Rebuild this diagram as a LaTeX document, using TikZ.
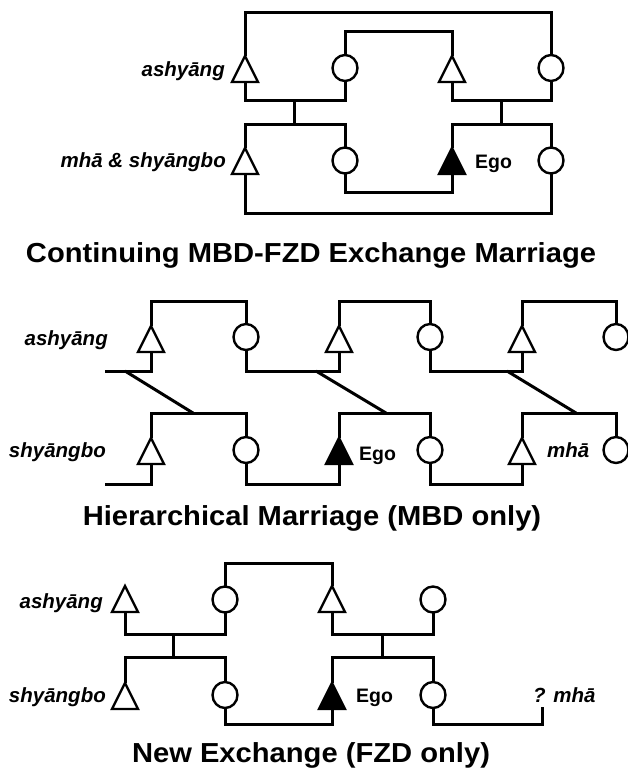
\documentclass[tikz,border=0pt]{standalone}
\usepackage{fontspec}
\setmainfont{Liberation Sans}
\usepackage{graphicx}
\usetikzlibrary{shapes.geometric,calc}
\begin{document}
\begin{tikzpicture}[x=1pt,y=-1pt,
  conn/.style={line width=3pt},
  male/.style={draw, line width=2.4pt, isosceles triangle, isosceles triangle stretches,
    shape border rotate=90, minimum width=26pt, minimum height=26pt,
    inner sep=0pt, outer sep=0pt, anchor=north, fill=white},
  ego/.style={male, fill=black},
  fem/.style={draw, ellipse, line width=2.4pt, minimum width=25pt, minimum height=26pt, inner sep=0pt, outer sep=0pt, fill=white},
  lab/.style={font=\fontsize{20.5}{24}\selectfont\bfseries\itshape, inner sep=0pt},
  egol/.style={font=\fontsize{19.5}{23}\selectfont\bfseries, inner sep=0pt, anchor=base west},
  ttl/.style={font=\fontsize{27.5}{31}\selectfont\bfseries, inner sep=0pt, anchor=base}]
\path[use as bounding box, fill=white] (0,0) rectangle (628,768);

% ---------- Panel 1 ----------
\coordinate (p1top) at (0,13);
\coordinate (p1in) at (0,32);
\coordinate (p1cpl) at (0,100);
\coordinate (p1sib) at (0,124);
\coordinate (p1inb) at (0,192);
\coordinate (p1bot) at (0,213);
\node[male] (tA) at (245,56) {};
\node[fem]  (cA) at (345,68) {};
\node[male] (tB) at (452,56) {};
\node[fem]  (cB) at (551,68) {};
\node[male] (tC) at (245,148) {};
\node[fem]  (cC) at (345,160.5) {};
\node[ego]  (eD) at (452,148) {};
\node[fem]  (cD) at (551,160.5) {};
\coordinate (dA) at (294,100);
\coordinate (dB) at (501,100);
\draw[conn] (tA.north) -- (tA.north |- p1top) -| (cB.north);
\draw[conn] (cA.north) -- (cA.north |- p1in) -| (tB.north);
\draw[conn] (tA.south) -- (tA.south |- p1cpl) -| (cA.south);
\draw[conn] (tB.south) -- (tB.south |- p1cpl) -| (cB.south);
\draw[conn] (dA) -- (dA |- p1sib);
\draw[conn] (dB) -- (dB |- p1sib);
\draw[conn] (tC.north) -- (tC.north |- p1sib) -| (cC.north);
\draw[conn] (eD.north) -- (eD.north |- p1sib) -| (cD.north);
\draw[conn] (tC.south) -- (tC.south |- p1bot) -| (cD.south);
\draw[conn] (cC.south) -- (cC.south |- p1inb) -| (eD.south);
\node[lab, anchor=base east] (l1a) at (225,76) {ashyāng};
\node[lab, anchor=base east] (l1b) at (226,167) {mhā \& shyāngbo};
\node[egol] (l1e) at (475,168) {Ego};
\node[ttl] (T1) at (311,262) {\scalebox{1.06}[1]{Continuing MBD-FZD Exchange Marriage}};

% ---------- Panel 2 ----------
\coordinate (p2top) at (0,301);
\coordinate (p2mid) at (0,371);
\coordinate (p2sib) at (0,413);
\coordinate (p2bot) at (0,484);
\node[male] (tE) at (151,326) {};
\node[fem]  (cE) at (246,337) {};
\node[male] (tF) at (339,326) {};
\node[fem]  (cF) at (430,337) {};
\node[male] (tG) at (522,326) {};
\node[fem]  (cG) at (616,337) {};
\node[male] (tH) at (151,438) {};
\node[fem]  (cH) at (246,450) {};
\node[ego]  (eI) at (339,438) {};
\node[fem]  (cI) at (430,450) {};
\node[male] (tJ) at (522,438) {};
\node[fem]  (cJ) at (616,450) {};
\coordinate (s1) at (105,371);
\coordinate (s2) at (105,484);
\coordinate (g1a) at (125,371);
\coordinate (g1b) at (193,413);
\coordinate (g2a) at (316,371);
\coordinate (g2b) at (386,413);
\coordinate (g3a) at (507,371);
\coordinate (g3b) at (576,413);
\draw[conn] (tE.north) -- (tE.north |- p2top) -| (cE.north);
\draw[conn] (tF.north) -- (tF.north |- p2top) -| (cF.north);
\draw[conn] (tG.north) -- (tG.north |- p2top) -| (cG.north);
\draw[conn] (tE.south) |- (s1);
\draw[conn] (cE.south) -- (cE.south |- p2mid) -| (tF.south);
\draw[conn] (cF.south) -- (cF.south |- p2mid) -| (tG.south);
\draw[conn] (g1a) -- (g1b);
\draw[conn] (g2a) -- (g2b);
\draw[conn] (g3a) -- (g3b);
\draw[conn] (tH.north) -- (tH.north |- p2sib) -| (cH.north);
\draw[conn] (eI.north) -- (eI.north |- p2sib) -| (cI.north);
\draw[conn] (tJ.north) -- (tJ.north |- p2sib) -| (cJ.north);
\draw[conn] (tH.south) |- (s2);
\draw[conn] (cH.south) -- (cH.south |- p2bot) -| (eI.south);
\draw[conn] (cI.south) -- (cI.south |- p2bot) -| (tJ.south);
\node[lab, anchor=base east] (l2a) at (108,345) {ashyāng};
\node[lab, anchor=base east] (l2b) at (106,457) {shyāngbo};
\node[egol] (l2e) at (359,460) {Ego};
\node[lab, anchor=base west] (l2m) at (547,457) {mhā};
\node[ttl] (T2) at (312,525) {\scalebox{1.06}[1]{Hierarchical Marriage (MBD only)}};

% ---------- Panel 3 ----------
\coordinate (p3top) at (0,563);
\coordinate (p3cpl) at (0,634);
\coordinate (p3sib) at (0,657);
\coordinate (p3bot) at (0,724);
\node[male] (tK) at (125,586) {};
\node[fem]  (cK) at (225,599.5) {};
\node[male] (tL) at (332,586) {};
\node[fem]  (cL) at (433,599.5) {};
\node[male] (tM) at (125,683) {};
\node[fem]  (cM) at (225,695) {};
\node[ego]  (eN) at (332,683) {};
\node[fem]  (cN) at (433,695) {};
\coordinate (dK) at (173,634);
\coordinate (dL) at (382,634);
\coordinate (qm) at (542,707);
\draw[conn] (cK.north) -- (cK.north |- p3top) -| (tL.north);
\draw[conn] (tK.south) -- (tK.south |- p3cpl) -| (cK.south);
\draw[conn] (tL.south) -- (tL.south |- p3cpl) -| (cL.south);
\draw[conn] (dK) -- (dK |- p3sib);
\draw[conn] (dL) -- (dL |- p3sib);
\draw[conn] (tM.north) -- (tM.north |- p3sib) -| (cM.north);
\draw[conn] (eN.north) -- (eN.north |- p3sib) -| (cN.north);
\draw[conn] (cM.south) -- (cM.south |- p3bot) -| (eN.south);
\draw[conn] (cN.south) -- (cN.south |- p3bot) -| (qm);
\node[lab, anchor=base east] (l3a) at (103,608) {ashyāng};
\node[lab, anchor=base east] (l3b) at (106,702) {shyāngbo};
\node[egol] (l3e) at (356,702) {Ego};
\node[lab, anchor=base west] (l3m) at (533,702) {? mhā};
\node[ttl] (T3) at (311,762) {\scalebox{1.06}[1]{New Exchange (FZD only)}};
\end{tikzpicture}
\end{document}
